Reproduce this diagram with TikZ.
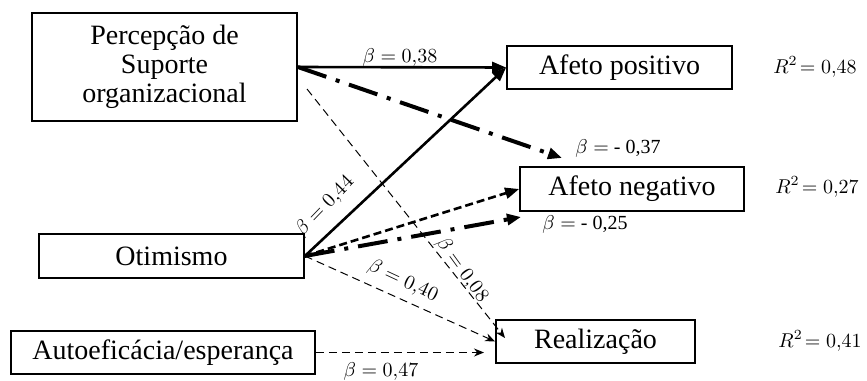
\documentclass[tikz,border=0pt]{standalone}
\usepackage{fontspec}
\setmainfont{Liberation Serif}
\usepackage{tikz}
\usetikzlibrary{arrows.meta}
\usetikzlibrary{positioning}

\begin{document}
\begin{tikzpicture}[x=0.5pt, y=-0.5pt,
    box/.style={draw, line width=0.9pt, rectangle, align=center, inner sep=0pt,
        font=\fontsize{14}{14.5}\selectfont},
    coef/.style={font=\fontsize{10}{12}\selectfont, inner sep=0pt},
    solidarr/.style={line width=1.3pt, -{Triangle[length=7pt,width=5.5pt]}},
    dasharr/.style={line width=1.3pt, dash pattern=on 4pt off 2pt,
        -{Triangle[length=7pt,width=5.5pt]}},
    dotarr/.style={line width=2pt, dash pattern=on 15pt off 5pt on 2pt off 5pt,
        -{Triangle[length=7pt,width=5.5pt]}},
    thinarr/.style={line width=0.5pt, dash pattern=on 4pt off 2.5pt,
        -{Stealth[length=5pt,width=4pt]}}]
    \useasboundingbox (0,0) rectangle (867,380);

    % Predictors
    \node[box, minimum width=132.5pt, minimum height=54pt] (perc) at (164.5,67)
        {Percepção de\\Suporte\\organizacional};
    \node[box, minimum width=132.5pt, minimum height=22pt] (otim) at (171.5,256) {Otimismo};
    \node[box, minimum width=152pt, minimum height=21.5pt] (auto) at (163,352.5) {Autoeficácia/esperança};

    % Outcomes
    \node[box, minimum width=112.5pt, minimum height=21.5pt] (afpos) at (619.5,67.5) {Afeto positivo};
    \node[box, minimum width=112pt, minimum height=22pt] (afneg) at (632,189) {Afeto negativo};
    \node[box, minimum width=99.5pt, minimum height=21.5pt] (real) at (595.5,341.5) {Realização};

    % Free ends
    \coordinate (negtip) at (562,158);
    \coordinate (negtipb) at (521,217);
    \coordinate (percb) at (307,89);
    \coordinate (realtip) at (505,338);
    \coordinate (autotip) at (484,352.5);

    % Paths
    \draw[solidarr] (perc.east) -- (afpos.west);
    \draw[dotarr] (perc.east) -- (negtip);
    \draw[thinarr] (percb) -- (realtip);
    \draw[solidarr] (otim.east) -- (afpos.west);
    \draw[dasharr] (otim.east) -- (afneg.west);
    \draw[dotarr] (otim.east) -- (negtipb);
    \draw[thinarr] (otim.east) -- (real.west);
    \draw[thinarr] (auto.east) -- (autotip);

    % Coefficients
    \node[coef] (b38) at (400,57) {$\beta = 0{,}38$};
    \node[coef] (b37) at (618,148) {$\beta =$ - 0,37};
    \node[coef] (b25) at (585,224) {$\beta =$ - 0,25};
    \node[coef, rotate=46] (b44) at (325,206) {$\beta = 0{,}44$};
    \node[coef, rotate=-25] (b40) at (403,281) {$\beta = 0{,}40$};
    \node[coef, rotate=-54] (b08) at (462,270) {$\beta = 0{,}08$};
    \node[coef] (b47) at (381,371) {$\beta = 0{,}47$};

    % Explained variance
    \node[coef] (r48) at (815,67) {$R^2\!= 0{,}48$};
    \node[coef] (r27) at (817,187) {$R^2\!= 0{,}27$};
    \node[coef] (r41) at (820,341) {$R^2\!= 0{,}41$};
\end{tikzpicture}
\end{document}
